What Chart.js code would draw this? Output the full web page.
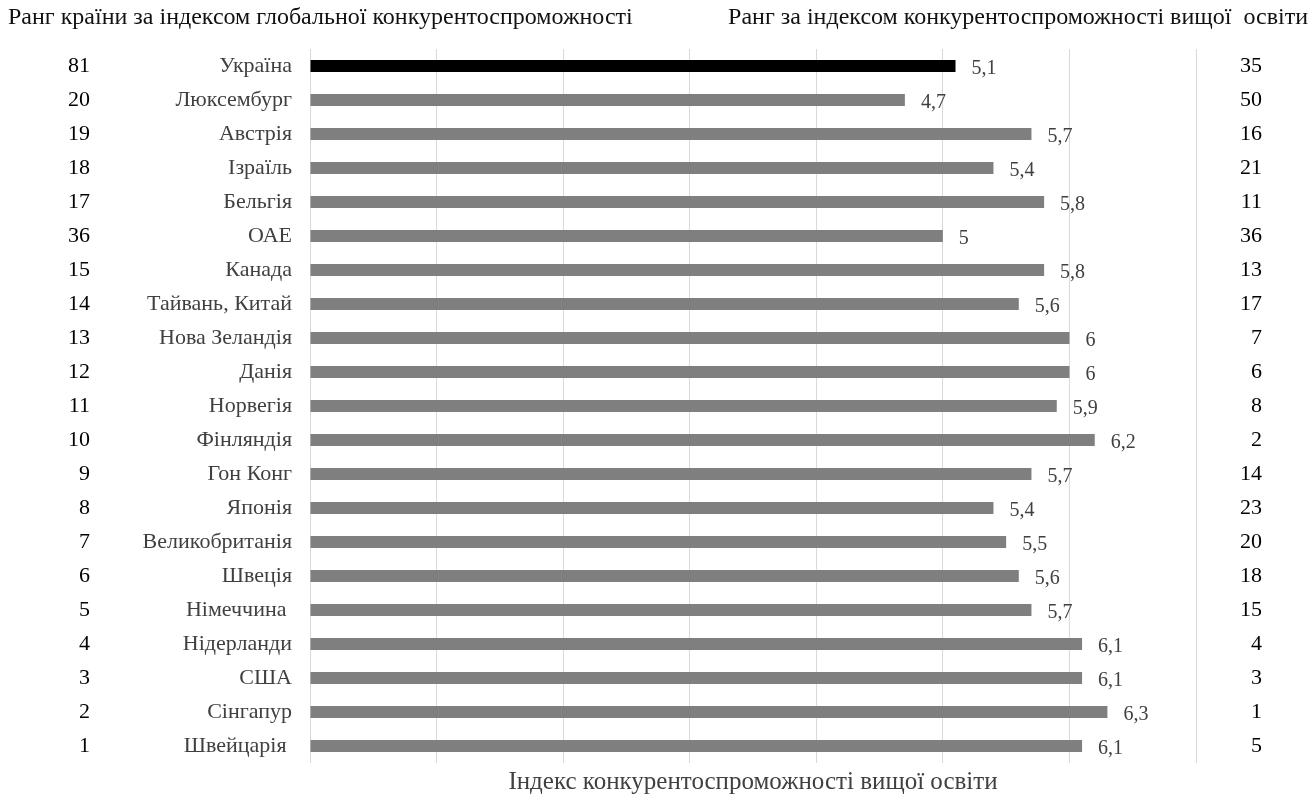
<!DOCTYPE html>
<html lang="uk">
<head>
<meta charset="utf-8">
<script src="https://cdn.jsdelivr.net/npm/chart.js@4/dist/chart.umd.min.js"></script>
<style>
  html, body { margin: 0; padding: 0; background: #fff; }
  #wrap { position: relative; width: 1314px; height: 799px; }
</style>
</head>
<body>
<div id="wrap"><canvas id="c" width="1314" height="799"></canvas></div>
<script>
// Країни (зверху вниз) та індекс конкурентоспроможності вищої освіти
const countries = ['Україна', 'Люксембург', 'Австрія', 'Ізраїль', 'Бельгія', 'ОАЕ', 'Канада',
  'Тайвань, Китай', 'Нова Зеландія', 'Данія', 'Норвегія', 'Фінляндія', 'Гон Конг', 'Японія',
  'Великобританія', 'Швеція', 'Німеччина ', 'Нідерланди', 'США', 'Сінгапур', 'Швейцарія '];
const eduIndex = [5.1, 4.7, 5.7, 5.4, 5.8, 5, 5.8, 5.6, 6, 6, 5.9, 6.2, 5.7, 5.4, 5.5, 5.6, 5.7, 6.1, 6.1, 6.3, 6.1];
// Ранг за індексом глобальної конкурентоспроможності (ліва колонка)
const globalRank = ['81', '20', '19', '18', '17', '36', '15', '14', '13', '12', '11', '10', '9', '8', '7', '6', '5', '4', '3', '2', '1'];
// Ранг за індексом конкурентоспроможності вищої освіти (права колонка)
const eduRank = ['35', '50', '16', '21', '11', '36', '13', '17', '7', '6', '8', '2', '14', '23', '20', '18', '15', '4', '3', '1', '5'];

const leftTitle = 'Ранг країни за індексом глобальної конкурентоспроможності';
const rightTitle = 'Ранг за індексом конкурентоспроможності вищої  освіти';
const axisTitle = 'Індекс конкурентоспроможності вищої освіти';

const SERIF = "'Liberation Serif', 'Times New Roman', serif";
const TEXT_GREY = '#404040';

// Підписи значень праворуч від смуг (десяткова кома)
const valueLabels = {
  id: 'valueLabels',
  afterDatasetsDraw(chart) {
    const ctx = chart.ctx;
    const meta = chart.getDatasetMeta(0);
    const data = chart.data.datasets[0].data;
    ctx.save();
    ctx.font = '20px ' + SERIF;
    ctx.fillStyle = TEXT_GREY;
    ctx.textAlign = 'left';
    ctx.textBaseline = 'middle';
    meta.data.forEach((bar, i) => {
      ctx.fillText(String(data[i]).replace('.', ','), bar.x + 16, bar.y + 3);
    });
    ctx.restore();
  }
};

// Заголовки колонок рангів
const columnTitles = {
  id: 'columnTitles',
  afterDraw(chart) {
    const ctx = chart.ctx;
    ctx.save();
    ctx.font = '24px ' + SERIF;
    ctx.fillStyle = '#111';
    ctx.textBaseline = 'middle';
    ctx.textAlign = 'left';
    ctx.fillText(leftTitle, 8, 18);
    ctx.textAlign = 'right';
    ctx.fillText(rightTitle, 1308, 18);
    ctx.restore();
  }
};

const noGrid = { display: false, drawTicks: false };

new Chart(document.getElementById('c'), {
  type: 'bar',
  data: {
    labels: countries,
    datasets: [{
      data: eduIndex,
      backgroundColor: countries.map((_, i) => i === 0 ? '#000000' : '#7f7f7f'),
      barPercentage: 0.36,
      categoryPercentage: 1,
      yAxisID: 'y'
    }]
  },
  options: {
    indexAxis: 'y',
    responsive: false,
    animation: false,
    devicePixelRatio: 1,
    layout: { padding: { top: 49, right: 52, bottom: 0, left: 0 } },
    plugins: { legend: { display: false }, tooltip: { enabled: false } },
    scales: {
      x: {
        type: 'linear',
        min: 0,
        max: 7,
        ticks: { display: false, stepSize: 1 },
        grid: { color: '#d9d9d9', lineWidth: 1, drawTicks: false },
        border: { display: false },
        title: {
          display: true,
          text: axisTitle,
          color: TEXT_GREY,
          font: { family: SERIF, size: 25 },
          padding: { top: 0, bottom: 2 }
        },
        afterFit(s) { s.height = 36; }
      },
      y: {
        type: 'category',
        position: 'left',
        weight: 0,
        grid: noGrid,
        border: { display: false },
        ticks: { color: TEXT_GREY, font: { family: SERIF, size: 22 }, padding: 18, autoSkip: false },
        afterFit(s) { s.width = 210; }
      },
      yRankL: {
        type: 'category',
        labels: globalRank,
        position: 'left',
        weight: 1,
        offset: true,
        grid: noGrid,
        border: { display: false },
        ticks: { color: '#000', font: { family: SERIF, size: 22 }, padding: 10, autoSkip: false },
        afterFit(s) { s.width = 100; }
      },
      yRankR: {
        type: 'category',
        labels: eduRank,
        position: 'right',
        offset: true,
        grid: noGrid,
        border: { display: false },
        ticks: { color: '#000', font: { family: SERIF, size: 22 }, padding: 10, autoSkip: false, crossAlign: 'far' },
        afterFit(s) { s.width = 66; }
      }
    }
  },
  plugins: [valueLabels, columnTitles]
});
</script>
</body>
</html>
